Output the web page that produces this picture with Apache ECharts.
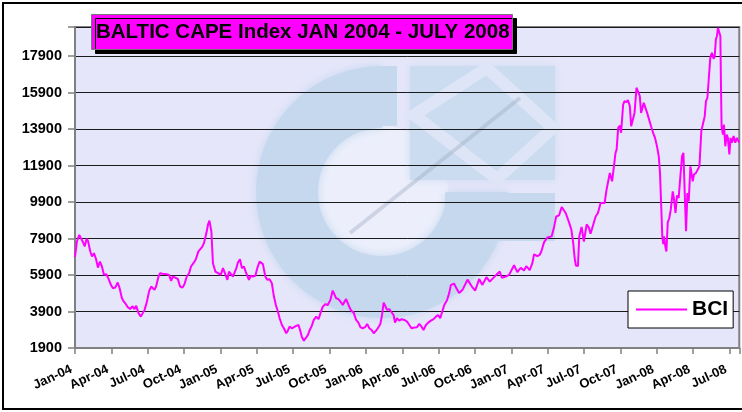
<!DOCTYPE html>
<html>
<head>
<meta charset="utf-8">
<script src="https://cdn.jsdelivr.net/npm/echarts@6/dist/echarts.min.js"></script>
<style>
  html, body { margin: 0; padding: 0; background: #fff; }
  #chart { width: 742px; height: 412px; }
</style>
</head>
<body>
<div id="chart"></div>
<script>
// month offset from Jan-04 (0 = 1 Jan 2004)
const MONTHS = [
  0, 0.16, 0.35, 0.49, 0.66, 0.80, 0.96, 1.07, 1.26, 1.40,
  1.56, 1.73, 1.89, 2.06, 2.22, 2.39, 2.58, 2.77, 2.96, 3.13,
  3.32, 3.52, 3.68, 3.87, 4.03, 4.20, 4.34, 4.55, 4.75, 4.91,
  5.05, 5.24, 5.43, 5.57, 5.74, 5.93, 6.12, 6.28, 6.42, 6.56,
  6.69, 6.89, 7.02, 7.22, 7.38, 7.57, 7.76, 7.93, 8.07, 8.26,
  8.48, 8.67, 8.87, 9.03, 9.22, 9.41, 9.57, 9.77, 9.96, 10.18,
  10.29, 10.48, 10.64, 10.84, 10.97, 11.09, 11.25, 11.38, 11.58, 11.80,
  12.02, 12.21, 12.35, 12.57, 12.70, 12.84, 13.03, 13.17, 13.31, 13.44,
  13.61, 13.77, 13.94, 14.08, 14.22, 14.35, 14.49, 14.68, 14.88, 15.04,
  15.23, 15.37, 15.50, 15.70, 15.86, 16.05, 16.24, 16.41, 16.57, 16.74,
  16.88, 17.07, 17.23, 17.43, 17.56, 17.70, 17.89, 18.05, 18.25, 18.44,
  18.60, 18.71, 18.88, 19.02, 19.21, 19.37, 19.53, 19.70, 19.90, 20.09,
  20.25, 20.44, 20.64, 20.85, 21.07, 21.26, 21.40, 21.54, 21.73, 21.90,
  22.09, 22.23, 22.37, 22.56, 22.78, 22.99, 23.19, 23.38, 23.54, 23.73,
  23.93, 24.10, 24.28, 24.47, 24.64, 24.84, 25.03, 25.19, 25.33, 25.46,
  25.60, 25.74, 25.93, 26.07, 26.28, 26.40, 26.56, 26.75, 26.94, 27.17,
  27.39, 27.58, 27.77, 27.99, 28.21, 28.40, 28.59, 28.75, 28.95, 29.14,
  29.36, 29.58, 29.78, 29.96, 30.13, 30.32, 30.46, 30.68, 30.87, 31.01,
  31.14, 31.28, 31.50, 31.69, 31.97, 32.10, 32.38, 32.74, 33.01, 33.34,
  33.61, 33.94, 34.22, 34.49, 34.85, 35.04, 35.21, 35.54, 35.81, 36.22,
  36.49, 36.77, 37.04, 37.23, 37.51, 37.73, 37.87, 38.14, 38.34, 38.47,
  38.69, 38.96, 39.10, 39.32, 39.51, 39.70, 39.93, 40.15, 40.25, 40.48,
  40.75, 40.95, 41.10, 41.22, 41.32, 41.49, 41.60, 41.79, 41.98, 42.21,
  42.39, 42.53, 42.75, 42.95, 43.14, 43.36, 43.49, 43.69, 43.85, 43.96,
  44.12, 44.31, 44.45, 44.59, 44.68, 44.81, 44.95, 45.05, 45.22, 45.33,
  45.50, 45.61, 45.77, 45.88, 46.04, 46.16, 46.32, 46.43, 46.59, 46.70,
  46.82, 46.92, 47.06, 47.20, 47.36, 47.52, 47.69, 47.85, 48.02, 48.16,
  48.26, 48.35, 48.45, 48.53, 48.59, 48.71, 48.79, 48.90, 49.02, 49.15,
  49.31, 49.43, 49.54, 49.66, 49.80, 49.94, 50.08, 50.19, 50.30, 50.41,
  50.52, 50.63, 50.77, 50.85, 50.96, 51.06, 51.23, 51.39, 51.51, 51.67,
  51.80, 51.95, 52.05, 52.17, 52.27, 52.41, 52.54, 52.68, 52.77, 52.87,
  52.96, 53.04, 53.15, 53.24, 53.29, 53.34, 53.45, 53.53, 53.65, 53.76,
  53.86, 53.98, 54.08, 54.19, 54.33, 54.47, 54.60, 54.74, 54.80
];

const BCI = [
  6900, 7740, 8100, 8070, 7700, 7470, 7890, 7780, 7190, 6920,
  7100, 6790, 6310, 6640, 6370, 5910, 5950, 5690, 5360, 5180,
  5210, 5490, 5180, 4630, 4440, 4300, 4150, 4040, 4190, 4030,
  4220, 3810, 3620, 3570, 3990, 4440, 5030, 5270, 5210, 5090,
  5270, 5820, 6000, 5970, 6020, 5950, 5910, 5580, 5820, 5760,
  5690, 5270, 5210, 5400, 5820, 6000, 6370, 6550, 6750, 7200,
  7250, 7430, 7650, 8200, 8660, 8880, 8290, 6550, 6090, 6000,
  5910, 6280, 6370, 5640, 6090, 6150, 5820, 5860, 6280, 6590,
  6770, 6280, 6370, 6090, 6130, 5640, 5860, 5820, 5860, 6280,
  6640, 6740, 6500, 5820, 5640, 5670, 5450, 4720, 4260, 3900,
  3530, 3160, 2980, 2710, 2850, 3070, 2980, 3070, 3110, 3160,
  2800, 2520, 2300, 2340, 2610, 2890, 3110, 3440, 3620, 3480,
  3810, 4170, 4300, 4260, 4540, 5050, 4990, 4630, 4580, 4440,
  4260, 4440, 4580, 4260, 3950, 3840, 3440, 3290, 3040, 2980,
  3040, 3220, 2980, 2890, 2710, 2850, 3040, 3220, 3710, 4390,
  4210, 3990, 4030, 3900, 3710, 3290, 3530, 3400, 3480, 3440,
  3350, 3160, 2980, 3020, 3040, 3220, 3070, 2890, 3160, 3290,
  3400, 3480, 3620, 3710, 3530, 3950, 4260, 4500, 4910, 5360,
  5270, 5420, 5130, 4910, 5090, 5180, 5650, 5270, 5050, 5680,
  5360, 5780, 5540, 5730, 5970, 6090, 5750, 5820, 5910, 6440,
  6060, 6300, 6150, 6390, 6170, 6550, 7040, 6940, 7010, 7190,
  7690, 7960, 8020, 8020, 8500, 9110, 9170, 9630, 9660, 9300,
  8800, 8380, 7650, 6830, 6420, 6390, 8020, 8540, 7740, 8680,
  8500, 8160, 8660, 9110, 9300, 9850, 9940, 9850, 10580, 10670,
  11500, 11040, 11090, 12600, 12780, 13970, 14100, 13700, 15250, 15430,
  15380, 15490, 15160, 14060, 14060, 14790, 16170, 16260, 15720, 14790,
  14700, 15340, 15430, 14790, 14700, 14060, 13700, 13420, 12930, 12400,
  11500, 9850, 8000, 7600, 8020, 7420, 7190, 8800, 9000, 9500,
  10490, 10000, 9300, 10250, 10130, 11310, 12420, 12600, 10400, 8300,
  10400, 9940, 11860, 11960, 11040, 11410, 11500, 11410, 11860, 13800,
  13880, 14610, 15430, 15620, 15530, 17820, 18090, 17760, 17870, 18820,
  19010, 19450, 19450, 19010, 16260, 14060, 13600, 14150, 12960, 13600,
  13420, 12510, 13420, 13150, 13520, 13150, 13420, 13520, 13150
];

const QUARTER_LABELS = [
  'Jan-04', 'Apr-04', 'Jul-04', 'Oct-04',
  'Jan-05', 'Apr-05', 'Jul-05', 'Oct-05',
  'Jan-06', 'Apr-06', 'Jul-06', 'Oct-06',
  'Jan-07', 'Apr-07', 'Jul-07', 'Oct-07',
  'Jan-08', 'Apr-08', 'Jul-08'
];

const FONT = '"Liberation Sans", Arial, sans-serif';
const chart = echarts.init(document.getElementById('chart'));

const seriesData = MONTHS.map((m, i) => [m, BCI[i]]);

// plot background + faded company logo, on the bottom layer (zlevel 0);
// everything else of the chart sits on zlevel 1 so grid lines stay on top
const ringBlue = '#C5D8EE';
const boxBlue = '#CCDCF0';
const backdrop = [
  { type: 'rect', z: 0, shape: { x: 75, y: 27, width: 665, height: 321 }, style: { fill: '#E6E6FA' } },
  { type: 'circle', z: 1, shape: { cx: 382, cy: 192, r: 66 }, style: { fill: '#ECEFFB' } },
  { type: 'arc', z: 2, shape: { cx: 382, cy: 192, r: 95, startAngle: 0, endAngle: Math.PI * 1.5, clockwise: true },
    style: { stroke: ringBlue, lineWidth: 62, fill: null, shadowBlur: 10, shadowColor: ringBlue } },
  { type: 'rect', z: 2, shape: { x: 380, y: 66, width: 17, height: 60 }, style: { fill: ringBlue } },
  { type: 'rect', z: 2, shape: { x: 445, y: 193, width: 110, height: 48 }, style: { fill: ringBlue } },
  { type: 'rect', z: 2, shape: { x: 410, y: 66, width: 145, height: 114 },
    style: { fill: boxBlue, shadowBlur: 8, shadowColor: boxBlue } },
  { type: 'polygon', z: 3, shape: { points: [[487, 68], [414, 115], [497, 179], [553, 128]] },
    style: { fill: null, stroke: '#DEE5F7', lineWidth: 12 } },
  { type: 'line', z: 3, shape: { x1: 350, y1: 233, x2: 520, y2: 98 },
    style: { stroke: 'rgba(150,160,185,0.35)', lineWidth: 4 } }
].map(el => Object.assign(el, { zlevel: 0, silent: true }));

const option = {
  backgroundColor: '#fff',
  animation: false,
  title: {
    text: 'BALTIC CAPE Index JAN 2004 - JULY 2008',
    left: 91,
    top: 14,
    zlevel: 1,
    z: 30,
    padding: [6, 3, 6, 5],
    backgroundColor: '#FF00FF',
    borderColor: '#777',
    borderWidth: 1,
    shadowColor: '#000',
    shadowBlur: 0,
    shadowOffsetX: 4,
    shadowOffsetY: 4,
    textStyle: {
      color: '#000',
      fontFamily: FONT,
      fontWeight: 'bold',
      fontSize: 20.5,
      lineHeight: 24
    }
  },
  legend: {
    left: 628,
    top: 291,
    zlevel: 1,
    z: 30,
    padding: [8, 5, 8, 8],
    backgroundColor: '#fff',
    borderColor: '#000',
    borderWidth: 1,
    itemWidth: 51,
    itemHeight: 2,
    icon: 'rect',
    textStyle: {
      color: '#000',
      fontFamily: FONT,
      fontWeight: 'bold',
      fontSize: 21
    },
    data: ['BCI']
  },
  graphic: [
    ...backdrop,
    {
      type: 'rect',
      zlevel: 1,
      z: 40,
      shape: { x: 3, y: 3, width: 800, height: 406 },
      style: { fill: null, stroke: '#000', lineWidth: 2 }
    }
  ],
  grid: {
    left: 75,
    right: 2,
    top: 27,
    bottom: 64,
    show: true,
    zlevel: 1,
    backgroundColor: 'transparent',
    borderColor: '#808080',
    borderWidth: 2
  },
  xAxis: {
    type: 'value',
    min: 0,
    max: 54.8,
    interval: 3,
    zlevel: 1,
    z: 20,
    axisLine: { lineStyle: { color: '#808080', width: 2 } },
    axisTick: { show: true, length: 6, lineStyle: { color: '#808080', width: 1.5 } },
    splitLine: { show: false },
    axisLabel: {
      rotate: 25,
      margin: 19,
      padding: [0, 4, 0, 0],
      color: '#000',
      fontFamily: FONT,
      fontWeight: 'bold',
      fontSize: 13,
      formatter: function (v) {
        const i = v / 3;
        return Math.abs(i - Math.round(i)) < 1e-6 ? (QUARTER_LABELS[Math.round(i)] || '') : '';
      }
    }
  },
  yAxis: {
    type: 'value',
    min: 1900,
    max: 19500,
    interval: 2000,
    zlevel: 1,
    z: 20,
    axisLine: { show: true, lineStyle: { color: '#808080', width: 2 } },
    axisTick: { show: true, length: 7, lineStyle: { color: '#808080', width: 1.5 } },
    splitLine: { lineStyle: { color: '#1a1a1a', width: 1 } },
    axisLabel: {
      margin: 13,
      color: '#000',
      fontFamily: FONT,
      fontWeight: 'bold',
      fontSize: 14.5,
      formatter: function (v) {
        return v > 17900 ? '' : String(v);
      }
    }
  },
  series: [
    {
      name: 'BCI',
      type: 'line',
      zlevel: 1,
      z: 25,
      data: seriesData,
      symbol: 'none',
      showSymbol: false,
      clip: true,
      color: '#FF00FF',
      lineStyle: { color: '#FF00FF', width: 2 }
    }
  ]
};

chart.setOption(option);
</script>
</body>
</html>
